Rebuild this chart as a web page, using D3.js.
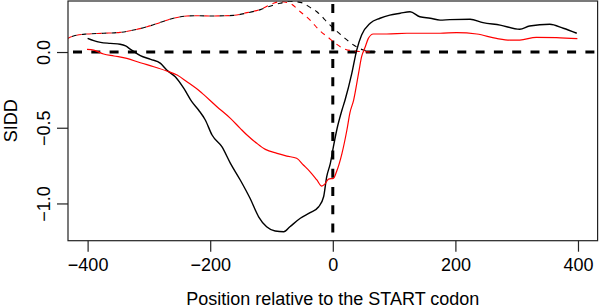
<!DOCTYPE html>
<html>
<head>
<meta charset="utf-8">
<script src="https://cdn.jsdelivr.net/npm/d3@7"></script>
<style>
    body { margin: 0; background: #fff; }
    text { font-family: "Liberation Sans", Arial, Helvetica, sans-serif; }
</style>
</head>
<body>
<div id="container"></div>
<script>
// SIDD profile around the START codon
const blackPos = [-400, -390, -379, -363, -347, -338, -330, -314, -297, -281, -271, -257, -243, -230, -219, -208, -197, -181, -167, -151, -135, -121, -108, -94, -80, -70, -53, -37, -23, -15, -10, -4, 1, 7, 15, 20, 31, 39, 47, 61, 77, 93, 110, 126, 142, 159, 175, 191, 224, 245, 273, 305, 321, 354, 376, 398];
const blackSidd = [0.090, 0.075, 0.064, 0.057, 0.051, 0.040, 0.018, -0.024, -0.048, -0.075, -0.119, -0.163, -0.240, -0.328, -0.383, -0.449, -0.548, -0.625, -0.735, -0.845, -0.966, -1.088, -1.154, -1.182, -1.187, -1.154, -1.098, -1.061, -1.022, -0.956, -0.824, -0.735, -0.625, -0.505, -0.383, -0.317, -0.141, 0.013, 0.112, 0.190, 0.223, 0.244, 0.256, 0.266, 0.233, 0.223, 0.211, 0.214, 0.216, 0.194, 0.178, 0.150, 0.172, 0.183, 0.157, 0.124];

const redPos = [-401, -390, -374, -357, -336, -314, -292, -271, -254, -238, -216, -211, -189, -167, -151, -140, -124, -110, -91, -75, -59, -48, -37, -26, -18, -13, -7, 1, 6, 15, 23, 28, 34, 42, 47, 53, 58, 66, 88, 121, 142, 175, 202, 235, 267, 289, 305, 332, 365, 399];
const redSidd = [0.018, 0.013, -0.013, -0.026, -0.042, -0.071, -0.097, -0.125, -0.152, -0.196, -0.262, -0.280, -0.361, -0.438, -0.504, -0.548, -0.603, -0.643, -0.669, -0.687, -0.702, -0.746, -0.791, -0.845, -0.885, -0.872, -0.839, -0.834, -0.791, -0.669, -0.515, -0.400, -0.317, -0.141, -0.031, 0.035, 0.090, 0.119, 0.119, 0.124, 0.124, 0.124, 0.128, 0.119, 0.090, 0.079, 0.079, 0.097, 0.095, 0.088];

const blackDashPos = [-440, -423, -401, -374, -347, -325, -303, -281, -260, -238, -219, -200, -162, -140, -118, -97, -86, -70, -59, -48, -37, -26, -15, -10, 1, 17, 34, 50, 60, 74];
const blackDashSidd = [0.070, 0.106, 0.119, 0.124, 0.130, 0.145, 0.167, 0.196, 0.223, 0.238, 0.240, 0.238, 0.242, 0.258, 0.280, 0.310, 0.322, 0.335, 0.332, 0.322, 0.295, 0.266, 0.223, 0.200, 0.157, 0.101, 0.046, 0.013, 0.005, 0.000];

const redDashPos = [-440, -423, -401, -374, -347, -325, -303, -281, -260, -238, -219, -200, -162, -140, -118, -97, -86, -75, -70, -53, -37, -21, -7, 1, 17, 34, 50, 66];
const redDashSidd = [0.070, 0.106, 0.119, 0.124, 0.130, 0.145, 0.167, 0.196, 0.223, 0.238, 0.240, 0.238, 0.242, 0.260, 0.282, 0.322, 0.332, 0.328, 0.322, 0.266, 0.211, 0.140, 0.095, 0.068, 0.024, 0.007, 0.002, 0.000];

const xTicks = [-400, -200, 0, 200, 400];
const yTicks = [0, -0.5, -1];

const width = 600;
const height = 307;
const marginTop = 1;
const marginRight = 2.4;
const marginBottom = 66.3;
const marginLeft = 68;

const x = d3.scaleLinear()
    .domain([-432, 432])
    .range([marginLeft, width - marginRight]);

const y = d3.scaleLinear()
    .domain([-1.246, 0.337])
    .range([height - marginBottom, marginTop]);

const svg = d3.create("svg")
    .attr("width", width)
    .attr("height", height);

svg.append("clipPath")
    .attr("id", "plot")
    .append("rect")
    .attr("x", marginLeft)
    .attr("y", marginTop)
    .attr("width", width - marginLeft - marginRight)
    .attr("height", height - marginTop - marginBottom);

const line = d3.line()
    .x(d => x(d[0]))
    .y(d => y(d[1]))
    .curve(d3.curveMonotoneX);

const g = svg.append("g").attr("clip-path", "url(#plot)");

// reference lines
g.append("line")
    .attr("x1", marginLeft).attr("x2", width - marginRight)
    .attr("y1", y(0)).attr("y2", y(0))
    .attr("stroke", "#000")
    .attr("stroke-width", 3)
    .attr("stroke-dasharray", "9,9.3")
    .attr("stroke-dashoffset", -5);

g.append("line")
    .attr("x1", x(0)).attr("x2", x(0))
    .attr("y1", marginTop).attr("y2", height - marginBottom)
    .attr("stroke", "#000")
    .attr("stroke-width", 3)
    .attr("stroke-dasharray", "9,9.3")
    .attr("stroke-dashoffset", -3);

const series = [
    { pos: blackDashPos, val: blackDashSidd, color: "#000", dash: "5,5", offset: 0, w: 1.1 },
    { pos: redDashPos, val: redDashSidd, color: "#ff0000", dash: "5,5", offset: 5, w: 1.1 },
    { pos: blackPos, val: blackSidd, color: "#000", dash: null, offset: 0, w: 1.4 },
    { pos: redPos, val: redSidd, color: "#ff0000", dash: null, offset: 0, w: 1.2 }
];

series.forEach(s => {
    g.append("path")
        .datum(d3.zip(s.pos, s.val))
        .attr("fill", "none")
        .attr("stroke", s.color)
        .attr("stroke-width", s.w)
        .attr("stroke-dasharray", s.dash)
        .attr("stroke-dashoffset", s.offset)
        .attr("d", line);
});

// frame
svg.append("rect")
    .attr("x", marginLeft)
    .attr("y", marginTop)
    .attr("width", width - marginLeft - marginRight)
    .attr("height", height - marginTop - marginBottom)
    .attr("fill", "none")
    .attr("stroke", "#222")
    .attr("stroke-width", 1.2);

// x axis
const xAxis = svg.append("g")
    .attr("transform", `translate(0,${height - marginBottom})`)
    .call(d3.axisBottom(x).tickValues(xTicks).tickSize(11).tickPadding(7).tickFormat(d3.format("d")));
xAxis.select(".domain").remove();
xAxis.selectAll("line").attr("stroke", "#222").attr("stroke-width", 1.2);
xAxis.selectAll("text")
    .attr("font-size", 18)
    .attr("fill", "#000")
    .attr("font-family", "Liberation Sans, Arial, sans-serif");

// y axis
const yAxis = svg.append("g")
    .attr("transform", `translate(${marginLeft},0)`)
    .call(d3.axisLeft(y).tickValues(yTicks).tickSize(11).tickFormat(d3.format(".1f")));
yAxis.select(".domain").remove();
yAxis.selectAll("line").attr("stroke", "#222").attr("stroke-width", 1.2);
yAxis.selectAll("text")
    .attr("font-size", 18)
    .attr("fill", "#000")
    .attr("font-family", "Liberation Sans, Arial, sans-serif")
    .attr("text-anchor", "middle")
    .attr("dy", null)
    .attr("x", null)
    .attr("transform", "translate(-18,0) rotate(-90)");

// axis titles
svg.append("text")
    .attr("x", (marginLeft + width - marginRight) / 2)
    .attr("y", 304.5)
    .attr("text-anchor", "middle")
    .attr("font-size", 18)
    .text("Position relative to the START codon");

svg.append("text")
    .attr("transform", `translate(16.5,${(marginTop + height - marginBottom) / 2}) rotate(-90)`)
    .attr("text-anchor", "middle")
    .attr("font-size", 18)
    .text("SIDD");

d3.select("#container").append(() => svg.node());
</script>
</body>
</html>
